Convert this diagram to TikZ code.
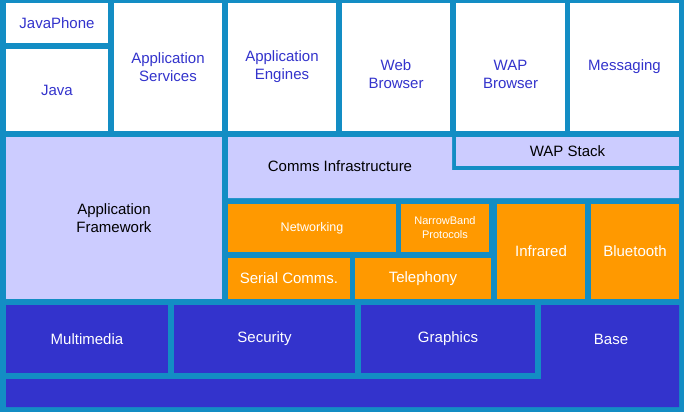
\documentclass[tikz,border=0pt]{standalone}
\usepackage{fontspec}
\setmainfont{Liberation Sans}
\definecolor{bg}{RGB}{19,141,196}
\definecolor{txtblue}{RGB}{51,51,204}
\definecolor{lav}{RGB}{204,204,255}
\definecolor{orng}{RGB}{255,153,0}
\definecolor{dblue}{RGB}{51,51,204}
\newcommand\blk[7]{\node[#6, minimum width={(#4)-(#2)}, minimum height={(#5)-(#3)}] (#1) at ({((#2)+(#4))/2},{((#3)+(#5))/2}) {#7};}
\begin{document}
\begin{tikzpicture}[x=1pt,y=-1pt,
  box/.style={rectangle, inner sep=0pt, align=center, font=\fontsize{15}{18}\selectfont},
  wbox/.style={box, fill=white, text=txtblue},
  lbox/.style={box, fill=lav, text=black},
  obox/.style={box, fill=orng, text=white},
  dbox/.style={box, fill=dblue, text=white},
  lbl/.style={inner sep=0pt, align=center, font=\fontsize{15}{18}\selectfont}]
\fill[bg] (0,0) rectangle (684,412);
\useasboundingbox (0,0) rectangle (684,412);
% top row
\blk{javaphone}{6}{3}{108}{43}{wbox}{JavaPhone}
\blk{java}{6}{49}{108}{131}{wbox}{Java}
\blk{appserv}{114}{3}{222}{131}{wbox}{Application\\Services}
\blk{appeng}{228}{3}{336}{131}{wbox}{Application\\Engines}
\blk{web}{342}{3}{450}{131}{wbox}{}
\node[lbl, text=txtblue] (webtxt) at (396,74) {Web\\Browser};
\blk{wap}{456}{3}{565}{131}{wbox}{}
\node[lbl, text=txtblue] (waptxt) at (510.5,74) {WAP\\Browser};
\blk{msg}{570}{3}{679}{131}{wbox}{Messaging}
% middle
\blk{appfw}{6}{137}{222}{299}{lbox}{Application\\Framework}
\fill[lav] (228,137) -- (452,137) -- (452,170) -- (679,170) -- (679,198) -- (228,198) -- cycle;
\node[lbl, text=black] (comms) at (340,166) {Comms Infrastructure};
\blk{wapstack}{456}{137}{679}{166}{lbox}{WAP Stack}
% orange
\blk{net}{228}{204}{396}{252}{obox, font=\fontsize{12.5}{15}\selectfont}{Networking}
\blk{nb}{401}{204}{489}{252}{obox, font=\fontsize{11}{14}\selectfont}{NarrowBand\\Protocols}
\blk{serial}{228}{258}{350}{299}{obox}{Serial Comms.}
\blk{tel}{355}{258}{491}{299}{obox}{Telephony}
\blk{ir}{497}{204}{585}{299}{obox}{Infrared}
\blk{bt}{591}{204}{679}{299}{obox}{Bluetooth}
% bottom
\blk{mm}{6}{305}{168}{373}{dbox}{Multimedia}
\blk{sec}{174}{305}{355}{373}{dbox}{Security}
\blk{gfx}{361}{305}{535}{373}{dbox}{Graphics}
\fill[dblue] (541,305) -- (679,305) -- (679,407) -- (6,407) -- (6,379) -- (541,379) -- cycle;
\node[lbl, text=white] (base) at (611,339) {Base};
\end{tikzpicture}
\end{document}
